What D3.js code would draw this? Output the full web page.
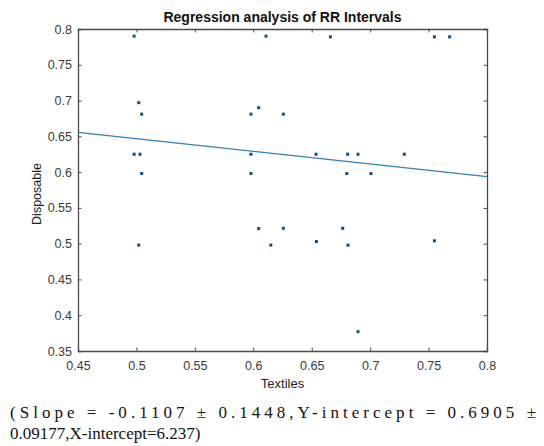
<!DOCTYPE html>
<html>
<head>
<meta charset="utf-8">
<script src="https://cdn.jsdelivr.net/npm/d3@7"></script>
<style>
  body { margin: 0; background: #fff; }
  svg { display: block; }
</style>
</head>
<body>
<div id="chart"></div>
<script>
// Scatter values
const textiles = [0.498, 0.502, 0.5045, 0.498, 0.503, 0.5045, 0.502,
  0.598, 0.6046, 0.598, 0.598, 0.6109, 0.6046, 0.615,
  0.666, 0.755, 0.768, 0.6257, 0.6537, 0.6807, 0.6896, 0.7292, 0.680, 0.7007,
  0.6257, 0.654, 0.6765, 0.681, 0.755, 0.6896];
const disposable = [0.790, 0.697, 0.681, 0.625, 0.625, 0.598, 0.498,
  0.681, 0.690, 0.625, 0.598, 0.790, 0.521, 0.498,
  0.789, 0.789, 0.789, 0.681, 0.625, 0.625, 0.625, 0.625, 0.598, 0.598,
  0.5215, 0.503, 0.5215, 0.498, 0.504, 0.377];

// Fitted line as drawn (ends of the axis range)
const fitX = [0.45, 0.8];
const fitY = [0.6556, 0.5936];

const xTicks = [0.45, 0.5, 0.55, 0.6, 0.65, 0.7, 0.75, 0.8];
const yTicks = [0.35, 0.4, 0.45, 0.5, 0.55, 0.6, 0.65, 0.7, 0.75, 0.8];

const titleText = "Regression analysis of RR Intervals";
const xLabel = "Textiles";
const yLabel = "Disposable";
const caption = ["(Slope = -0.1107 \u00b1 0.1448,Y-intercept = 0.6905 \u00b1",
                 "0.09177,X-intercept=6.237)"];

const width = 544, height = 446;
const margin = { top: 29, right: 57, bottom: 95, left: 78 };
const plotW = width - margin.left - margin.right;
const plotH = height - margin.top - margin.bottom;

const svg = d3.select("#chart").append("svg")
  .attr("width", width)
  .attr("height", height);

const x = d3.scaleLinear().domain([0.45, 0.8]).range([0, plotW]);
const y = d3.scaleLinear().domain([0.35, 0.8]).range([plotH, 0]);

const g = svg.append("g").attr("transform", `translate(${margin.left},${margin.top})`);

const axisColor = "#4a4a4a";
const fmt = d => d3.format("")(+d.toFixed(2));

// axes with inward ticks on all four sides
const axB = g.append("g").attr("transform", `translate(0,${plotH})`)
  .call(d3.axisBottom(x).tickValues(xTicks).tickSize(-3.5).tickPadding(10).tickFormat(fmt));
const axL = g.append("g")
  .call(d3.axisLeft(y).tickValues(yTicks).tickSize(-3.5).tickPadding(6).tickFormat(fmt));
const axT = g.append("g")
  .call(d3.axisTop(x).tickValues(xTicks).tickSize(-3.5).tickFormat(""));
const axR = g.append("g").attr("transform", `translate(${plotW},0)`)
  .call(d3.axisRight(y).tickValues(yTicks).tickSize(-3.5).tickFormat(""));

[axB, axL, axT, axR].forEach(a => {
  a.select(".domain").attr("stroke", axisColor).attr("stroke-width", 1.3);
  a.selectAll(".tick line").attr("stroke", axisColor).attr("stroke-width", 1);
  a.selectAll(".tick text")
    .attr("fill", "#3a3a3a")
    .style("font-family", "Arial, 'Liberation Sans', sans-serif")
    .style("font-size", "12.5px");
});

// fit line
g.append("line")
  .attr("x1", x(fitX[0])).attr("y1", y(fitY[0]))
  .attr("x2", x(fitX[1])).attr("y2", y(fitY[1]))
  .attr("stroke", "#2f80b5")
  .attr("stroke-width", 1.2);

// points
g.selectAll("rect.pt")
  .data(d3.range(textiles.length))
  .enter().append("rect")
  .attr("class", "pt")
  .attr("x", i => x(textiles[i]) - 1.5)
  .attr("y", i => y(disposable[i]) - 1.5)
  .attr("width", 3)
  .attr("height", 3)
  .attr("fill", "#0a4f86");

// title
svg.append("text")
  .attr("x", margin.left + plotW / 2)
  .attr("y", 22)
  .attr("text-anchor", "middle")
  .style("font-family", "Arial, 'Liberation Sans', sans-serif")
  .style("font-weight", "bold")
  .style("font-size", "14px")
  .attr("fill", "#111")
  .text(titleText);

// axis labels
svg.append("text")
  .attr("x", margin.left + plotW / 2)
  .attr("y", 388)
  .attr("text-anchor", "middle")
  .style("font-family", "Arial, 'Liberation Sans', sans-serif")
  .style("font-size", "13px")
  .attr("fill", "#222")
  .text(xLabel);

svg.append("text")
  .attr("transform", `translate(41,194) rotate(-90)`)
  .attr("text-anchor", "middle")
  .style("font-family", "Arial, 'Liberation Sans', sans-serif")
  .style("font-size", "12.5px")
  .attr("fill", "#222")
  .text(yLabel);

// caption below the chart
svg.append("text")
  .attr("x", 10).attr("y", 418)
  .attr("textLength", 526)
  .attr("lengthAdjust", "spacing")
  .style("font-family", "'Liberation Serif', 'Times New Roman', serif")
  .style("font-size", "17px")
  .attr("fill", "#111")
  .text(caption[0]);

svg.append("text")
  .attr("x", 10).attr("y", 439)
  .style("font-family", "'Liberation Serif', 'Times New Roman', serif")
  .style("font-size", "17px")
  .attr("fill", "#111")
  .text(caption[1]);
</script>
</body>
</html>
